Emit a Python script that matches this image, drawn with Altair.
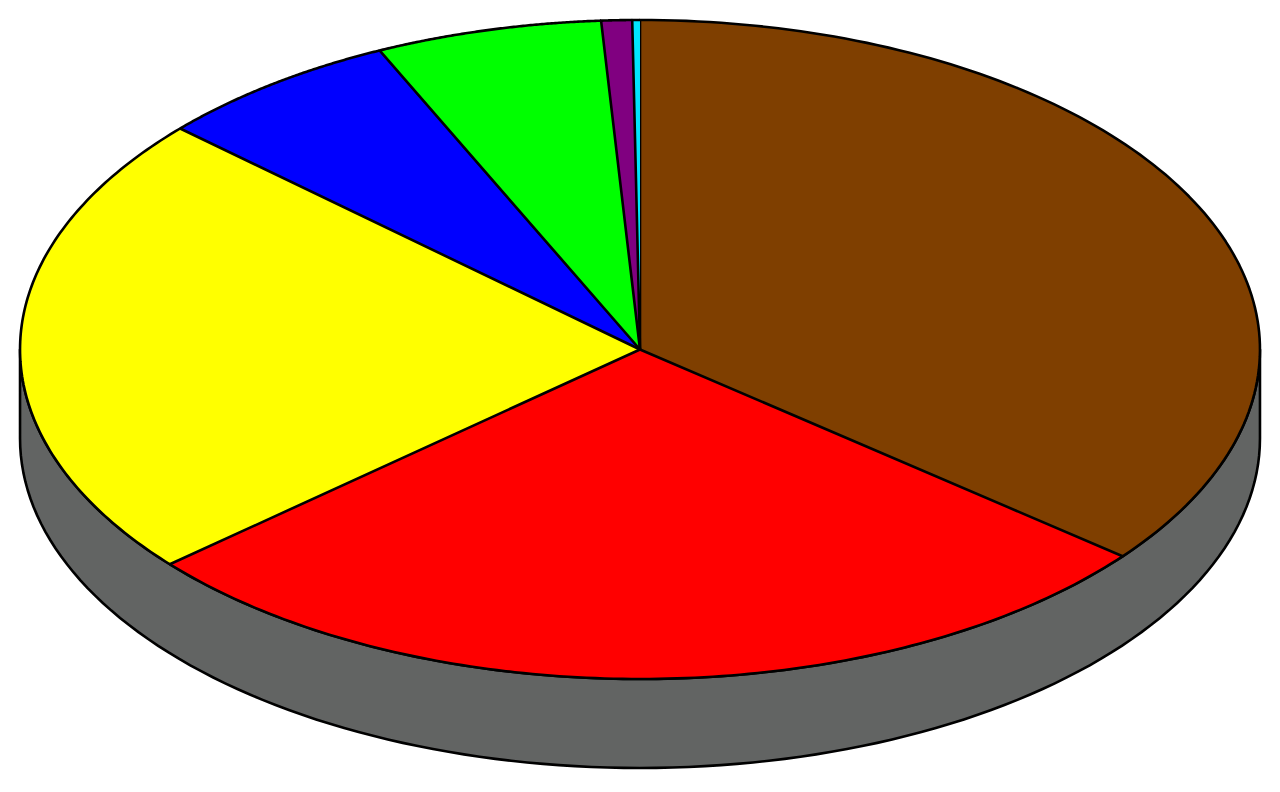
import altair as alt
import numpy as np
import pandas as pd

# ---- data (percent of the whole) ----
labels = ["Brown", "Red", "Yellow", "Blue", "Green", "Purple", "Cyan"]
values = [35.8, 27.9, 23.0, 6.4, 5.9, 0.8, 0.2]
colors = ["#7F3F00", "#FF0000", "#FFFF00", "#0000FF", "#00FF00", "#800080", "#00E5FF"]

SIDE_COLOR = "#626463"
DEPTH = 0.27      # thickness of the disc, in units of the vertical radius
N = 120           # sampling steps along each arc

frac = np.array(values) / sum(values)
end = np.cumsum(frac)
start = end - frac

slice_rows = []
for i, (lab, col) in enumerate(zip(labels, colors)):
    slice_rows.append(dict(slice=lab, k=0, t=0.0, start=start[i], end=end[i], color=col, center=1))
    for j in range(N + 1):
        slice_rows.append(dict(slice=lab, k=j + 1, t=j / N, start=start[i], end=end[i], color=col, center=0))
slices = pd.DataFrame(slice_rows)

# side band: sweep lower half of the dropped ellipse, then back along the top ellipse
side_rows = []
k = 0
for j in range(N + 1):
    side_rows.append(dict(k=k, deg=90 + 180 * j / N, drop=1)); k += 1
for j in range(N + 1):
    side_rows.append(dict(k=k, deg=270 - 180 * j / N, drop=0)); k += 1
side_rows.append(dict(k=k, deg=90, drop=1))
side = pd.DataFrame(side_rows)

xs = alt.Scale(domain=[-1.0194, 1.0194], nice=False, zero=False)
ys = alt.Scale(domain=[-1.3187, 1.0364], nice=False, zero=False)

side_layer = alt.Chart(side).transform_calculate(
    x="sin(datum.deg * PI / 180)",
    y=f"cos(datum.deg * PI / 180) - datum.drop * {DEPTH}",
).mark_line(
    fill=SIDE_COLOR, stroke="black", strokeWidth=2.6, strokeJoin="round"
).encode(
    x=alt.X("x:Q", scale=xs, axis=None),
    y=alt.Y("y:Q", scale=ys, axis=None),
    order=alt.Order("k:Q"),
)

slice_layer = alt.Chart(slices).transform_calculate(
    theta="2 * PI * (datum.start + (datum.end - datum.start) * datum.t)",
).transform_calculate(
    x="datum.center ? 0 : sin(datum.theta)",
    y="datum.center ? 0 : cos(datum.theta)",
).mark_line(
    stroke="black", strokeWidth=2.6, strokeJoin="round"
).encode(
    x=alt.X("x:Q", scale=xs, axis=None),
    y=alt.Y("y:Q", scale=ys, axis=None),
    detail="slice:N",
    fill=alt.Fill("color:N", scale=None, legend=None),
    order=alt.Order("k:Q"),
)

chart = alt.layer(side_layer, slice_layer).properties(
    width=1264, height=776, padding=0, autosize="none", background="white"
).configure_view(stroke=None)

chart.save("out.html", embed_options={"renderer": "svg", "actions": False})
